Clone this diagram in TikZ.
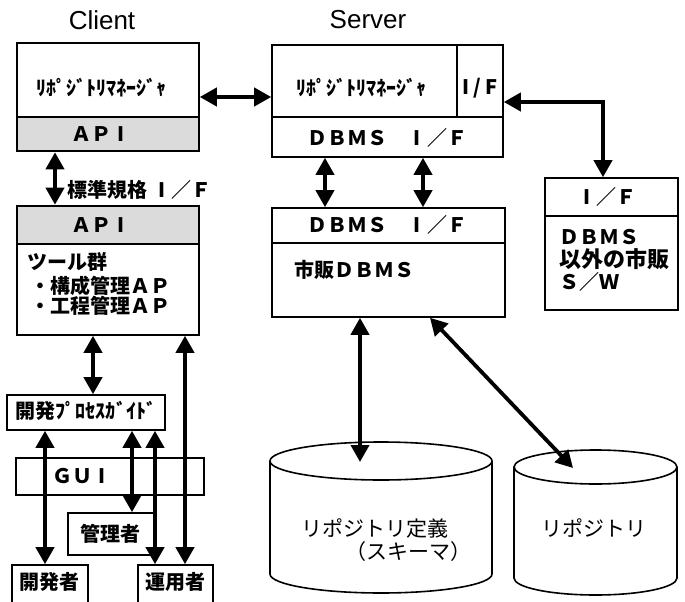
\documentclass[tikz,border=0pt]{standalone}
\usepackage{fontspec}
\setmainfont{Liberation Sans}
\newfontfamily\jp{Noto Sans CJK JP}
\usetikzlibrary{arrows.meta}
% a plain capital I set in a full-width cell
\newcommand\wideI{\makebox[1em]{I}}
\begin{document}
\begin{tikzpicture}[x=1pt,y=-1pt,
  box/.style={draw, line width=1.6pt, inner sep=0pt, fill=white},
  apibox/.style={box, line width=2.6pt, fill=black!14},
  thinbox/.style={draw, line width=1.3pt, inner sep=0pt},
  dar/.style={{Triangle[length=17pt,width=18pt]}-{Triangle[length=17pt,width=18pt]}, line width=3.8pt},
  jt/.style={font=\jp\bfseries\fontsize{20}{24}\selectfont, inner sep=0pt},
  jr/.style={font=\jp\fontsize{21}{25}\selectfont, inner sep=0pt},
  lt/.style={font=\fontsize{26}{30}\selectfont, inner sep=0pt},
  cyl/.style={line width=1.6pt}]
\useasboundingbox (0,0) rectangle (685,602);
\clip (0,0) rectangle (685,602);

% headings
\node[lt] (client) at (102,20) {Client};
\node[lt] (server) at (368,20) {Server};

% client side: repository manager and API
\node[box, minimum width=182pt, minimum height=74pt] (crm) at (108,80) {};
\node[jt] (crmtext) at (101,88) {ﾘﾎﾟｼﾞﾄﾘﾏﾈｰｼﾞｬ};
\node[apibox, minimum width=182pt, minimum height=34pt] (capi) at (108,134) {};
\node[jt] (capitext) at (101,134) {ＡＰ\wideI};

% server side
\node[box, minimum width=231pt, minimum height=112pt] (srv) at (387.5,101) {};
\draw[line width=1.6pt] (srv.west |- 0,117) -- (srv.east |- 0,117);
\draw[line width=1.6pt] (457,0 |- srv.north) -- (457,117);
\node[jt] (srmtext) at (361,88) {ﾘﾎﾟｼﾞﾄﾘﾏﾈｰｼﾞｬ};
\node[jt] (sif) at (480,88) {I / F};
\node[jt] (sdbif) at (387,138) {ＤＢＭＳ　\wideI／Ｆ};

% commercial software other than DBMS
\node[box, minimum width=133pt, minimum height=132pt] (rbox) at (611.5,244) {};
\draw[line width=1.6pt] (rbox.west |- 0,216) -- (rbox.east |- 0,216);
\node[jt] (rif) at (607,197) {\wideI／Ｆ};
\node[jt, anchor=west] (r1) at (559,237) {ＤＢＭＳ};
\node[jt, anchor=west, font=\jp\bfseries\fontsize{22}{24}\selectfont] (r2) at (559,259) {以外の市販};
\node[jt, anchor=west] (r3) at (559,282) {Ｓ／Ｗ};

% tool side API and tools
\node[apibox, minimum width=182pt, minimum height=38pt] (tapi) at (108,225) {};
\node[jt] (tapitext) at (101,225) {ＡＰ\wideI};
\node[box, minimum width=182pt, minimum height=91pt] (tools) at (108,289.5) {};
\node[jt, anchor=west] (t1) at (27,262) {ツール群};
\node[jt, anchor=west] (t2) at (30,286) {・構成管理ＡＰ};
\node[jt, anchor=west] (t3) at (30,306) {・工程管理ＡＰ};
\node[jt, anchor=west] (stdif) at (67,190) {標準規格 \wideI／Ｆ};

% commercial DBMS
\node[box, minimum width=233pt, minimum height=109pt] (dbms) at (388.5,262.5) {};
\draw[line width=1.6pt] (dbms.west |- 0,243) -- (dbms.east |- 0,243);
\node[jt] (dbif) at (387,225) {ＤＢＭＳ　\wideI／Ｆ};
\node[jt, anchor=west] (dbname) at (294,270) {市販ＤＢＭＳ};

% repositories
\draw[cyl, fill=white] (270,461) -- (270,574) arc[start angle=180, end angle=0, x radius=111, y radius=19] -- (492,461);
\draw[cyl] (381,461) ellipse [x radius=111, y radius=19];
\node[jr] (def1) at (375,528) {リポジトリ定義};
\node[jr] (def2) at (408,552) {（スキーマ）};
\draw[cyl, fill=white] (514,467) -- (514,578) arc[start angle=180, end angle=0, x radius=81.5, y radius=17] -- (677,467);
\draw[cyl] (595.5,467) ellipse [x radius=81.5, y radius=17];
\node[jr] (repo) at (594,528) {リポジトリ};
\coordinate (cyl1top) at (360,462);
\coordinate (cyl2top) at (573,468);

% people and GUI
\node[thinbox, minimum width=188pt, minimum height=37pt] (gui) at (110,476.5) {};
\node[jt] (guitext) at (82,476) {ＧＵ\wideI};
\node[box, minimum width=158pt, minimum height=35pt] (pg) at (86,412.5) {};
\node[jt] (pgtext) at (86,411) {開発ﾌﾟﾛｾｽｶﾞｲﾄﾞ};
\node[box, minimum width=86pt, minimum height=42pt] (mgr) at (111,534) {};
\node[jt] (mgrtext) at (110,534) {管理者};
\node[box, minimum width=76pt, minimum height=50pt] (dev) at (50,590) {};
\node[jt] (devtext) at (49,582) {開発者};
\node[box, minimum width=75pt, minimum height=50pt] (ops) at (175.5,590) {};
\node[jt] (opstext) at (175,582) {運用者};

% connectors
\coordinate (cs) at (0,97);
\coordinate (sr) at (603,102);
\draw[dar] (crm.east |- cs) -- (srv.west |- cs);
\draw[dar] (srv.east |- sr) -| (rbox.north -| sr);
\draw[dar] (capi.south -| 55,0) -- (tapi.north -| 55,0);
\draw[dar] (srv.south -| 325,0) -- (dbms.north -| 325,0);
\draw[dar] (srv.south -| 423,0) -- (dbms.north -| 423,0);
\draw[dar] (dbms.south -| cyl1top) -- (cyl1top);
\draw[dar] (dbms.south -| 430,0) -- (cyl2top);
\draw[dar] (tools.south -| 93,0) -- (pg.north -| 93,0);
\draw[dar] (pg.south -| 45,0) -- (dev.north -| 45,0);
\draw[dar] (pg.south -| 132,0) -- (mgr.north -| 132,0);
\draw[dar] (pg.south -| 155,0) -- (ops.north -| 155,0);
\draw[dar] (tools.south -| 185,0) -- (ops.north -| 185,0);
\end{tikzpicture}
\end{document}
